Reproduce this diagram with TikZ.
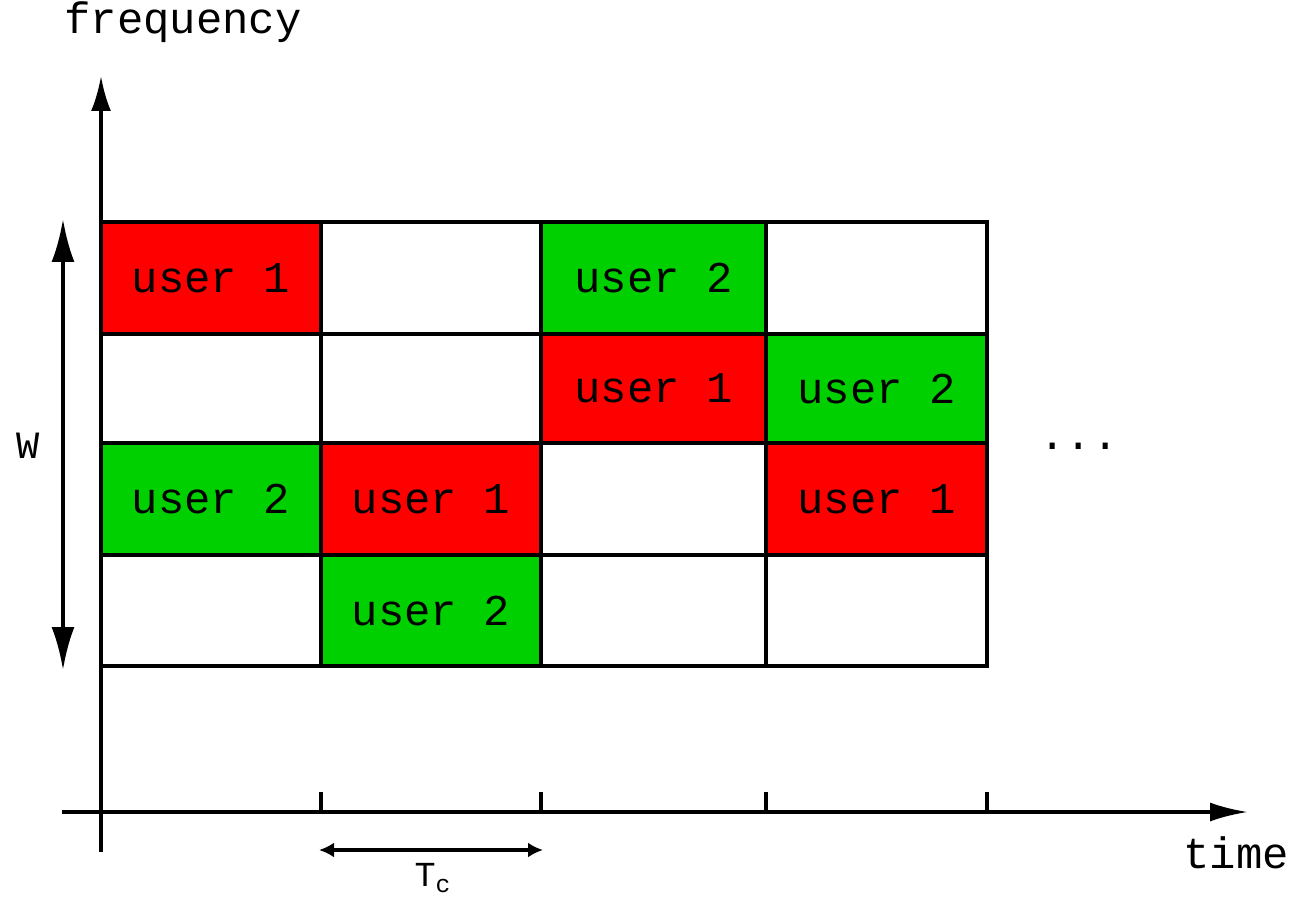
\documentclass[tikz,border=0pt]{standalone}
\usepackage{fontspec}
\setmonofont{Liberation Mono}
\usetikzlibrary{arrows.meta}
\definecolor{ured}{RGB}{255,0,0}
\definecolor{ugreen}{RGB}{0,208,0}
\tikzset{
  cell/.style={draw=black, line width=2.3pt, minimum height=2.24cm, inner sep=0pt, outer sep=0pt,
               font=\ttfamily\fontsize{25}{28}\selectfont, text depth=0pt, yshift=0.06cm},
  axis/.style={line width=2pt},
  lbl/.style={font=\ttfamily\fontsize{25}{28}\selectfont, inner sep=0pt},
  u1/.style={cell, fill=ured},
  u2/.style={cell, fill=ugreen},
  free/.style={cell, fill=white},
}
\begin{document}
\begin{tikzpicture}[x=0.02cm, y=-0.02cm]
\useasboundingbox (0,0) rectangle (1293,899);

% time slots (columns) and frequency bands (rows)
\foreach \r/\ya/\yb in {1/222/334, 2/334/443, 3/443/555, 4/555/666}{
  \foreach \c/\xa/\xb in {1/101/321, 2/321/541, 3/541/766, 4/766/987}{
    \coordinate (p\r\c) at ({(\xa+\xb)/2},{(\ya+\yb)/2+3});
  }
}
% row 1
\node[u1,   minimum width=4.40cm] (c11) at (p11) {user 1};
\node[free, minimum width=4.40cm] (c12) at (p12) {};
\node[u2,   minimum width=4.50cm] (c13) at (p13) {user 2};
\node[free, minimum width=4.42cm] (c14) at (p14) {};
% row 2
\node[free, minimum width=4.40cm, minimum height=2.18cm] (c21) at (p21) {};
\node[free, minimum width=4.40cm, minimum height=2.18cm] (c22) at (p22) {};
\node[u1,   minimum width=4.50cm, minimum height=2.18cm] (c23) at (p23) {user 1};
\node[u2,   minimum width=4.42cm, minimum height=2.18cm] (c24) at (p24) {user 2};
% row 3
\node[u2,   minimum width=4.40cm] (c31) at (p31) {user 2};
\node[u1,   minimum width=4.40cm] (c32) at (p32) {user 1};
\node[free, minimum width=4.50cm] (c33) at (p33) {};
\node[u1,   minimum width=4.42cm] (c34) at (p34) {user 1};
% row 4
\node[free, minimum width=4.40cm, minimum height=2.22cm] (c41) at (p41) {};
\node[u2,   minimum width=4.40cm, minimum height=2.22cm] (c42) at (p42) {user 2};
\node[free, minimum width=4.50cm, minimum height=2.22cm] (c43) at (p43) {};
\node[free, minimum width=4.42cm, minimum height=2.22cm] (c44) at (p44) {};

% axes
\coordinate (ybot) at (101,852);
\coordinate (ytop) at (101,76);
\coordinate (xl) at (62,812);
\coordinate (xr) at (1248,812);
\draw[axis, -{Latex[length=0.7cm,width=0.4cm]}] (ybot) -- (ytop);
\draw[axis, -{Latex[length=0.76cm,width=0.38cm]}] (xl) -- (xr);
\node[lbl, anchor=west] (flab) at (64,22) {frequency};
\node[lbl, anchor=west] (tlab) at (1183,853) {time};

% slot boundaries on the time axis
\foreach \x in {321,541,766,987}{
  \coordinate (tk\x) at (\x,792);
  \draw[axis] (tk\x) -- (\x,812);
}

% bandwidth W
\coordinate (wt) at (63,219);
\coordinate (wb) at (63,670);
\draw[line width=2.2pt, {Latex[length=0.86cm,width=0.46cm]}-{Latex[length=0.86cm,width=0.46cm]}] (wt) -- (wb);
\node[font=\ttfamily\fontsize{22}{24}\selectfont, inner sep=0pt] (wlab) at (28,446) {W};

% slot length T_c
\coordinate (tl) at (319,850);
\coordinate (tr) at (543,850);
\draw[line width=2.2pt, {Latex[length=0.3cm,width=0.3cm]}-{Latex[length=0.3cm,width=0.3cm]}] (tl) -- (tr);
\node[lbl, font=\ttfamily\fontsize{20}{22}\selectfont] (tclab) at (433,878) {T$_{\mathtt{c}}$};

% more slots follow
\node[lbl] (dots) at (1079,446) {...};
\end{tikzpicture}
\end{document}
